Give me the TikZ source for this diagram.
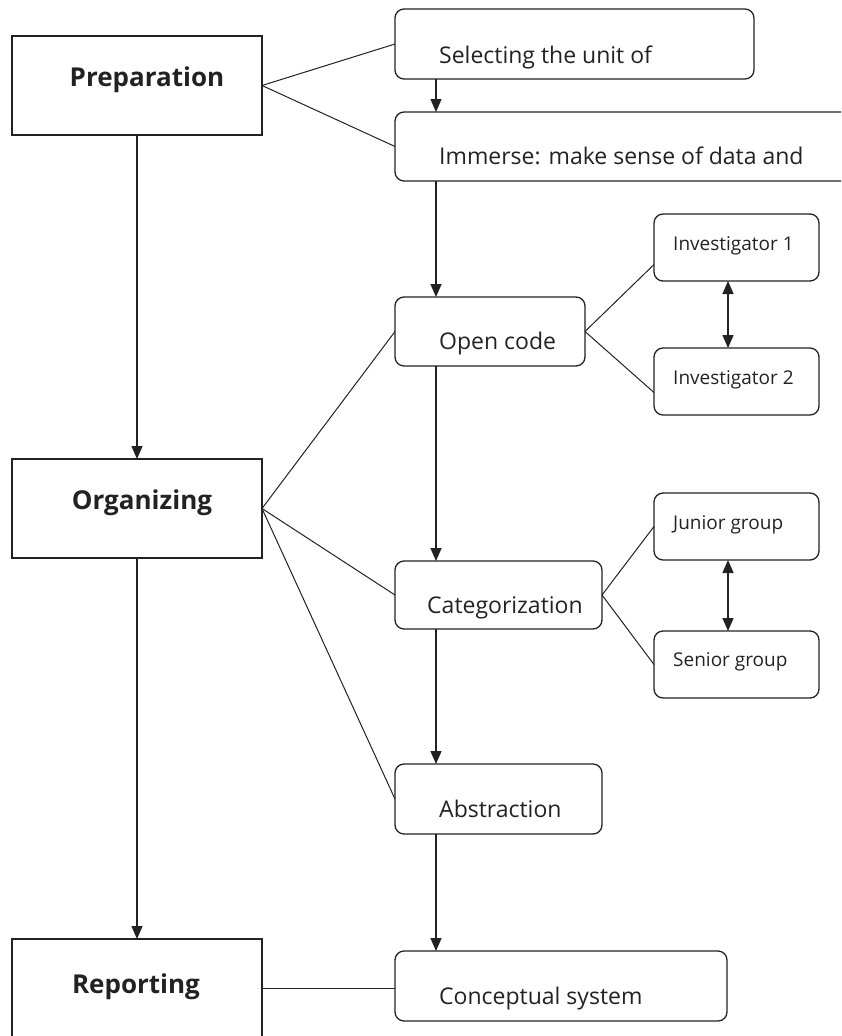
\documentclass[tikz,border=0pt]{standalone}
\usepackage{fontspec}
\setmainfont{Open Sans}
\usetikzlibrary{arrows.meta, calc}
\definecolor{ink}{HTML}{222222}
\tikzstyle{stage} = [rectangle, draw=ink, line width=1.3pt, minimum width=250pt, minimum height=99pt, inner sep=0pt, outer sep=0pt]
\tikzstyle{sbox} = [rectangle, rounded corners=9pt, draw=ink, line width=1.3pt, minimum height=69pt, inner sep=0pt, outer sep=0pt]
\tikzstyle{rbox} = [sbox, minimum width=165pt, minimum height=67pt]
\tikzstyle{stagetext} = [font=\fontsize{26}{30}\selectfont\bfseries, text=ink, anchor=base, inner sep=0pt]
\tikzstyle{steptext} = [font=\fontsize{23}{27}\selectfont, text=ink, anchor=base west, inner sep=0pt]
\tikzstyle{roletext} = [font=\fontsize{19}{23}\selectfont, text=ink, anchor=base west, inner sep=0pt]
\tikzstyle{line} = [draw=ink, line width=1pt]
\tikzstyle{flow} = [draw=ink, line width=1.5pt, -{Triangle[length=13pt,width=11pt]}]
\tikzstyle{swap} = [draw=ink, line width=1.5pt, {Triangle[length=13pt,width=11pt]}-{Triangle[length=13pt,width=11pt]}]

\begin{document}
\begin{tikzpicture}[x=1pt, y=-1pt]
    \path[use as bounding box] (0,0) rectangle (841,1036);
    \clip (0,0) rectangle (841,1036);

    % stages on the left
    \node[stage] (prep) at (137,85.5) {};
    \node[stage] (org) at (137,508.5) {};
    \node[stage] (rep) at (137,988.5) {};
    \node[stagetext] (prep-t) at (147,86) {Preparation};
    \node[stagetext] (org-t) at (142,509) {Organizing};
    \node[stagetext] (rep-t) at (136,993) {Reporting};

    % steps in the middle
    \node[sbox, minimum width=359pt, minimum height=70pt] (select) at (574.5,44) {};
    \node[sbox, minimum width=485pt] (immerse) at (637.5,146.5) {};
    \node[sbox, minimum width=190pt] (open) at (490,331.5) {};
    \node[sbox, minimum width=207pt, minimum height=68pt] (categ) at (498.5,595) {};
    \node[sbox, minimum width=207pt, minimum height=70pt] (abstr) at (498.5,799) {};
    \node[sbox, minimum width=332pt, minimum height=70pt] (concept) at (561,986) {};
    \node[steptext] (select-t) at (439,63) {Selecting the unit of};
    \node[steptext] (immerse-t) at (439,164) {Immerse: make sense of data and};
    \node[steptext] (open-t) at (439,349) {Open code};
    \node[steptext] (categ-t) at (427,613) {Categorization};
    \node[steptext] (abstr-t) at (439,817) {Abstraction};
    \node[steptext] (concept-t) at (439,1004) {Conceptual system};

    % coders on the right
    \node[rbox] (inv1) at (736.5,247.5) {};
    \node[rbox] (inv2) at (736.5,381.5) {};
    \node[rbox] (junior) at (736.5,526.5) {};
    \node[rbox] (senior) at (736.5,664.5) {};
    \node[roletext] (inv1-t) at (673,250) {Investigator 1};
    \node[roletext] (inv2-t) at (673,384) {Investigator 2};
    \node[roletext] (junior-t) at (673,529) {Junior group};
    \node[roletext] (senior-t) at (673,666) {Senior group};

    \coordinate (spine) at (436,0);
    \coordinate (link) at (728,0);

    \path[line] (prep.east) -- (select.west);
    \path[line] (prep.east) -- (immerse.west);
    \path[line] (org.east) -- (open.west);
    \path[line] (org.east) -- (categ.west);
    \path[line] (org.east) -- (abstr.west);
    \path[line] (open.east) -- ($(inv1.west)+(0,17)$);
    \path[line] (open.east) -- ($(inv2.west)+(0,11)$);
    \path[line] (categ.east) -- (junior.west);
    \path[line] (categ.east) -- (senior.west);
    \path[line, line width=1.5pt] (rep.east) -- (rep.east -| concept.west);

    \path[flow] (prep) -- (org);
    \path[flow] (org) -- (rep);
    \path[flow] (select.south -| spine) -- (immerse.north -| spine);
    \path[flow] (immerse.south -| spine) -- (open.north -| spine);
    \path[flow] (open.south -| spine) -- (categ.north -| spine);
    \path[flow] (categ.south -| spine) -- (abstr.north -| spine);
    \path[flow] (abstr.south -| spine) -- (concept.north -| spine);
    \path[swap] (inv1.south -| link) -- (inv2.north -| link);
    \path[swap] (junior.south -| link) -- (senior.north -| link);
\end{tikzpicture}
\end{document}
